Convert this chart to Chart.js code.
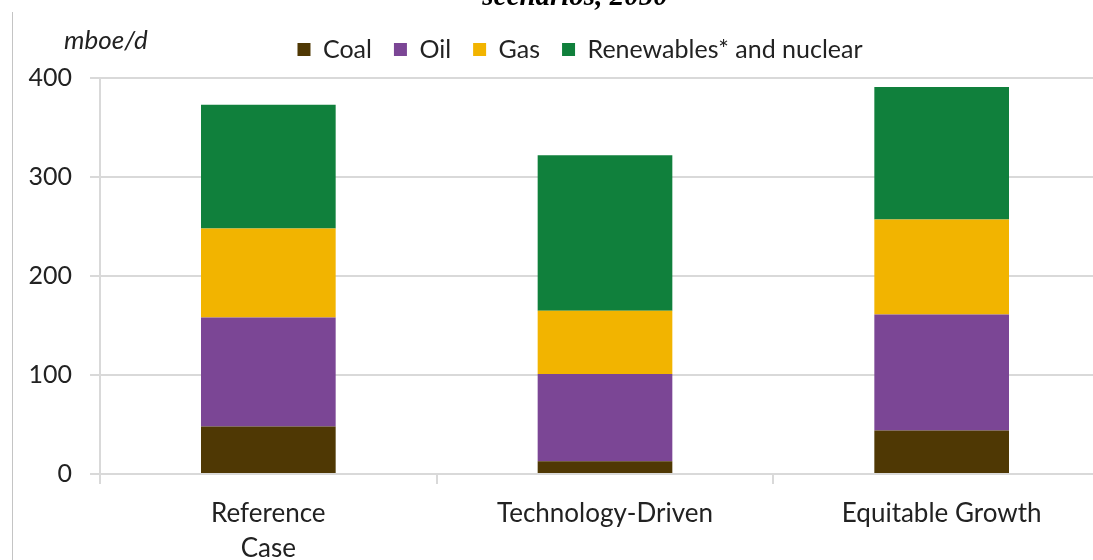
<!DOCTYPE html>
<html>
<head>
<meta charset="utf-8">
<script src="https://cdn.jsdelivr.net/npm/chart.js@4/dist/chart.umd.min.js"></script>
<style>
    html, body { margin: 0; padding: 0; background: #fff; overflow: hidden; }
    .wrap { position: relative; width: 1093px; height: 560px; overflow: hidden; }
    .frame { position: absolute; left: 12px; top: 12px; bottom: 0; border-left: 1px solid #c4c4c4; }
    canvas { position: absolute; left: 0; top: 0; }
</style>
</head>
<body>
<div class="wrap">
    <canvas id="energyChart" width="1120" height="560"></canvas>
    <div class="frame"></div>
</div>
<script>
// Primary energy demand by source, mboe/d, 2050
const scenarios = [['Reference', 'Case'], 'Technology-Driven', 'Equitable Growth'];
const coal = [48, 13, 44];
const oil = [110, 88, 117];
const gas = [90, 64, 96];
const renewables = [125, 157, 134];
const yTicks = [0, 100, 200, 300, 400];

const FONT = "Lato, 'Noto Sans', sans-serif";

document.addEventListener('DOMContentLoaded', () => {
    const ctx = document.getElementById('energyChart').getContext('2d');

    // Heading (only its lower edge shows) and the unit label above the y axis
    const headerText = {
        id: 'headerText',
        afterDraw(chart) {
            const c = chart.ctx;
            c.save();
            c.fillStyle = '#000';
            c.textAlign = 'center';
            c.textBaseline = 'alphabetic';
            c.font = "italic bold 29px 'Liberation Serif', serif";
            c.fillText('scenarios, 2050', 575, 5);
            c.fillStyle = '#222';
            c.textAlign = 'left';
            c.textBaseline = 'middle';
            c.font = 'italic 26px ' + FONT;
            c.fillText('mboe/d', 64, 41);
            c.restore();
        }
    };

    // Nudge the legend: a bit right of the canvas centre and closer to the heading
    const legendNudge = {
        id: 'legendNudge',
        afterLayout(chart) {
            const lg = chart.legend;
            if (!lg) return;
            lg.left += 25;
            lg.right += 25;
            lg.top -= 6;
            lg.bottom -= 6;
        }
    };

    const series = [
        { label: 'Coal', data: coal, color: '#4f3804' },
        { label: 'Oil', data: oil, color: '#7b4695' },
        { label: 'Gas', data: gas, color: '#f2b400' },
        { label: 'Renewables* and nuclear', data: renewables, color: '#10803c' }
    ];

    new Chart(ctx, {
        type: 'bar',
        data: {
            labels: scenarios,
            datasets: series.map(s => ({
                label: s.label,
                data: s.data,
                backgroundColor: s.color,
                borderWidth: 0,
                barPercentage: 0.4,
                categoryPercentage: 1
            }))
        },
        options: {
            responsive: false,
            animation: false,
            layout: {
                padding: { left: 0, right: 10, top: 21, bottom: 0 }
            },
            plugins: {
                legend: {
                    position: 'top',
                    align: 'center',
                    labels: {
                        color: '#222',
                        font: { family: FONT, size: 25 },
                        boxWidth: 13,
                        boxHeight: 13,
                        padding: 22
                    }
                },
                tooltip: { enabled: false }
            },
            scales: {
                x: {
                    stacked: true,
                    grid: {
                        drawOnChartArea: false,
                        drawTicks: true,
                        tickLength: 10,
                        color: '#d9d9d9',
                        lineWidth: 2
                    },
                    border: { display: true, color: '#d9d9d9', width: 2 },
                    ticks: {
                        color: '#222',
                        padding: 12,
                        maxRotation: 0,
                        font: { family: FONT, size: 26, lineHeight: 1.35 }
                    },
                    afterFit: scale => { scale.height = 86; }
                },
                y: {
                    stacked: true,
                    min: yTicks[0],
                    max: yTicks[yTicks.length - 1],
                    afterBuildTicks: scale => {
                        scale.ticks = yTicks.map(v => ({ value: v }));
                    },
                    grid: {
                        color: '#d9d9d9',
                        lineWidth: 2,
                        tickLength: 10
                    },
                    border: { display: true, color: '#d9d9d9', width: 2 },
                    ticks: {
                        color: '#222',
                        padding: 18,
                        font: { family: FONT, size: 25 }
                    },
                    afterFit: scale => { scale.width = 100; }
                }
            }
        },
        plugins: [headerText, legendNudge]
    });
});
</script>
</body>
</html>
